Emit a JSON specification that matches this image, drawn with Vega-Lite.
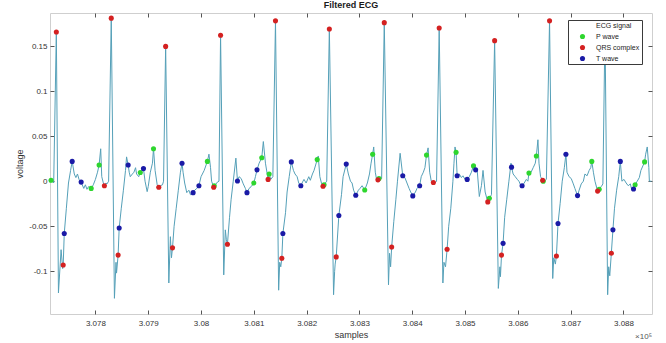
{
  "$schema": "https://vega.github.io/schema/vega-lite/v6.json",
  "width": 602,
  "height": 301,
  "autosize": {"type": "none"},
  "padding": {"left": 50, "top": 13, "right": 14, "bottom": 29},
  "background": "white",
  "title": {"text": "Filtered ECG", "fontSize": 9, "font": "Liberation Sans", "fontWeight": "bold", "color": "#1a1a1a", "frame": "group", "anchor": "middle", "offset": 3},
  "datasets": {
    "ecg": [
      {"s":307715,"v":0.001},{"s":307719,"v":0.000},{"s":307721,"v":-0.002},{"s":307726,"v":0.1656},{"s":307730,"v":-0.124},{"s":307735,"v":-0.076},{"s":307738,"v":-0.097},{"s":307739,"v":-0.093},{"s":307741,"v":-0.058},{"s":307745,"v":-0.03},{"s":307749,"v":-0.002},{"s":307753,"v":0.012},{"s":307756,"v":0.022},{"s":307760,"v":0.008},{"s":307763,"v":0.004},{"s":307766,"v":0.008},{"s":307769,"v":0.002},{"s":307773,"v":-0.001},{"s":307775,"v":-0.004},{"s":307778,"v":-0.008},{"s":307781,"v":-0.004},{"s":307784,"v":-0.009},{"s":307787,"v":-0.006},{"s":307792,"v":-0.008},{"s":307796,"v":-0.004},{"s":307800,"v":0.002},{"s":307804,"v":0.01},{"s":307807,"v":0.018},{"s":307810,"v":0.036},{"s":307812,"v":0.005},{"s":307815,"v":-0.002},{"s":307817,"v":-0.005},{"s":307820,"v":-0.002},{"s":307822,"v":-0.003},{"s":307825,"v":0.0},{"s":307830,"v":0.181},
      {"s":307836,"v":-0.130},{"s":307839,"v":-0.09},{"s":307840,"v":-0.102},{"s":307843,"v":-0.082},{"s":307845,"v":-0.052},{"s":307849,"v":-0.03},{"s":307853,"v":-0.01},{"s":307857,"v":0.012},{"s":307859,"v":0.027},{"s":307862,"v":0.018},{"s":307864,"v":0.01},{"s":307866,"v":0.005},{"s":307870,"v":0.008},{"s":307873,"v":0.01},{"s":307876,"v":0.015},{"s":307878,"v":0.008},{"s":307882,"v":0.005},{"s":307885,"v":0.0096},{"s":307888,"v":0.012},{"s":307891,"v":0.014},{"s":307894,"v":0.0},{"s":307898,"v":-0.0116},{"s":307900,"v":-0.006},{"s":307904,"v":0.01},{"s":307908,"v":0.02},{"s":307910,"v":0.036},{"s":307913,"v":0.012},{"s":307917,"v":-0.004},{"s":307920,"v":-0.0067},{"s":307923,"v":-0.005},{"s":307927,"v":-0.004},{"s":307929,"v":0.0},{"s":307933,"v":0.1496},
      {"s":307939,"v":-0.113},{"s":307942,"v":-0.0616},{"s":307944,"v":-0.085},{"s":307946,"v":-0.074},{"s":307949,"v":-0.05},{"s":307953,"v":-0.03},{"s":307957,"v":-0.01},{"s":307961,"v":0.01},{"s":307964,"v":0.020},{"s":307966,"v":0.01},{"s":307969,"v":-0.002},{"s":307973,"v":-0.0127},{"s":307977,"v":-0.01},{"s":307980,"v":-0.015},{"s":307985,"v":-0.0127},{"s":307988,"v":-0.01},{"s":307992,"v":-0.008},{"s":307996,"v":-0.005},{"s":308000,"v":0.005},{"s":308006,"v":0.012},{"s":308012,"v":0.022},{"s":308015,"v":0.030},{"s":308018,"v":0.015},{"s":308020,"v":0.0},{"s":308024,"v":-0.0067},{"s":308027,"v":-0.004},{"s":308031,"v":-0.001},{"s":308034,"v":0.0},{"s":308037,"v":0.162},
      {"s":308043,"v":-0.104},{"s":308046,"v":-0.054},{"s":308048,"v":-0.065},{"s":308050,"v":-0.070},{"s":308054,"v":-0.04},{"s":308057,"v":-0.02},{"s":308061,"v":0.0},{"s":308066,"v":0.0256},{"s":308069,"v":0.0003},{"s":308072,"v":0.005},{"s":308076,"v":0.003},{"s":308080,"v":-0.003},{"s":308084,"v":-0.008},{"s":308087,"v":-0.0127},{"s":308091,"v":-0.008},{"s":308095,"v":-0.006},{"s":308100,"v":-0.002},{"s":308103,"v":0.005},{"s":308106,"v":0.0126},{"s":308110,"v":0.02},{"s":308115,"v":0.026},{"s":308118,"v":0.044},{"s":308122,"v":0.02},{"s":308127,"v":0.002},{"s":308129,"v":0.008},{"s":308132,"v":0.002},{"s":308136,"v":0.005},{"s":308141,"v":0.178},
      {"s":308147,"v":-0.121},{"s":308149,"v":-0.09},{"s":308151,"v":-0.095},{"s":308153,"v":-0.0856},{"s":308155,"v":-0.058},{"s":308160,"v":-0.035},{"s":308163,"v":-0.012},{"s":308167,"v":0.005},{"s":308171,"v":0.0214},{"s":308175,"v":0.012},{"s":308178,"v":0.008},{"s":308182,"v":0.005},{"s":308185,"v":-0.002},{"s":308189,"v":-0.005},{"s":308193,"v":0.0},{"s":308195,"v":0.002},{"s":308199,"v":-0.002},{"s":308204,"v":0.005},{"s":308207,"v":0.001},{"s":308211,"v":0.008},{"s":308214,"v":0.012},{"s":308220,"v":0.024},{"s":308222,"v":0.028},{"s":308225,"v":0.005},{"s":308228,"v":-0.002},{"s":308231,"v":-0.0056},{"s":308234,"v":-0.003},{"s":308238,"v":0.0},{"s":308243,"v":0.169},
      {"s":308251,"v":-0.126},{"s":308253,"v":-0.1},{"s":308254,"v":-0.092},{"s":308256,"v":-0.084},{"s":308261,"v":-0.038},{"s":308266,"v":-0.015},{"s":308269,"v":0.005},{"s":308275,"v":0.019},{"s":308279,"v":0.008},{"s":308283,"v":0.0},{"s":308286,"v":-0.002},{"s":308289,"v":-0.01},{"s":308293,"v":-0.0156},{"s":308298,"v":-0.01},{"s":308301,"v":-0.008},{"s":308305,"v":-0.005},{"s":308310,"v":-0.0097},{"s":308315,"v":-0.002},{"s":308319,"v":0.008},{"s":308322,"v":0.02},{"s":308325,"v":0.030},{"s":308327,"v":0.038},{"s":308330,"v":0.01},{"s":308333,"v":0.0},{"s":308335,"v":0.0015},{"s":308338,"v":0.002},{"s":308342,"v":0.003},{"s":308347,"v":0.176},
      {"s":308355,"v":-0.115},{"s":308357,"v":-0.08},{"s":308359,"v":-0.095},{"s":308361,"v":-0.073},{"s":308365,"v":-0.045},{"s":308369,"v":-0.02},{"s":308372,"v":0.0},{"s":308377,"v":0.031},{"s":308382,"v":0.006},{"s":308386,"v":0.004},{"s":308390,"v":-0.002},{"s":308394,"v":-0.008},{"s":308397,"v":-0.012},{"s":308401,"v":-0.0163},{"s":308406,"v":-0.012},{"s":308409,"v":-0.008},{"s":308414,"v":-0.005},{"s":308417,"v":0.005},{"s":308421,"v":0.01},{"s":308424,"v":0.015},{"s":308427,"v":0.029},{"s":308430,"v":0.037},{"s":308433,"v":0.01},{"s":308436,"v":0.0},{"s":308440,"v":-0.0015},{"s":308443,"v":-0.002},{"s":308446,"v":0.0},{"s":308451,"v":0.170},
      {"s":308458,"v":-0.113},{"s":308460,"v":-0.09},{"s":308463,"v":-0.095},{"s":308466,"v":-0.0756},{"s":308469,"v":-0.05},{"s":308473,"v":-0.03},{"s":308477,"v":0.0},{"s":308479,"v":0.02},{"s":308481,"v":0.038},{"s":308483,"v":0.032},{"s":308485,"v":0.006},{"s":308489,"v":0.008},{"s":308493,"v":0.004},{"s":308496,"v":0.006},{"s":308500,"v":0.002},{"s":308504,"v":0.002},{"s":308508,"v":0.005},{"s":308512,"v":0.01},{"s":308516,"v":0.017},{"s":308520,"v":0.0126},{"s":308523,"v":0.012},{"s":308527,"v":-0.017},{"s":308531,"v":-0.005},{"s":308534,"v":0.012},{"s":308538,"v":-0.012},{"s":308543,"v":-0.023},{"s":308546,"v":-0.019},{"s":308550,"v":-0.015},{"s":308556,"v":0.156},
      {"s":308563,"v":-0.119},{"s":308566,"v":-0.095},{"s":308567,"v":-0.106},{"s":308569,"v":-0.082},{"s":308572,"v":-0.069},{"s":308575,"v":-0.04},{"s":308579,"v":-0.02},{"s":308583,"v":0.0},{"s":308587,"v":0.020},{"s":308588,"v":0.0156},{"s":308591,"v":0.008},{"s":308595,"v":0.005},{"s":308599,"v":0.002},{"s":308602,"v":0.0},{"s":308605,"v":-0.004},{"s":308608,"v":-0.005},{"s":308612,"v":-0.002},{"s":308616,"v":0.002},{"s":308619,"v":0.0},{"s":308621,"v":0.009},{"s":308625,"v":0.01},{"s":308629,"v":0.015},{"s":308633,"v":0.02},{"s":308635,"v":0.028},{"s":308638,"v":0.046},{"s":308640,"v":0.02},{"s":308643,"v":0.005},{"s":308647,"v":0.001},{"s":308650,"v":0.0},{"s":308654,"v":0.002},{"s":308660,"v":0.178},
      {"s":308666,"v":-0.108},{"s":308668,"v":-0.085},{"s":308671,"v":-0.092},{"s":308673,"v":-0.083},{"s":308676,"v":-0.047},{"s":308680,"v":-0.025},{"s":308684,"v":0.0},{"s":308688,"v":0.015},{"s":308691,"v":0.030},{"s":308693,"v":0.01},{"s":308697,"v":0.005},{"s":308701,"v":0.003},{"s":308705,"v":-0.003},{"s":308708,"v":-0.008},{"s":308713,"v":-0.016},{"s":308716,"v":-0.01},{"s":308720,"v":-0.003},{"s":308724,"v":0.0},{"s":308727,"v":0.008},{"s":308731,"v":0.006},{"s":308735,"v":0.012},{"s":308738,"v":0.015},{"s":308740,"v":0.022},{"s":308743,"v":0.01},{"s":308746,"v":0.0},{"s":308751,"v":-0.011},{"s":308754,"v":-0.008},{"s":308758,"v":-0.006},{"s":308761,"v":-0.003},{"s":308765,"v":0.17},
      {"s":308770,"v":-0.126},{"s":308772,"v":-0.095},{"s":308774,"v":-0.105},{"s":308777,"v":-0.080},{"s":308780,"v":-0.054},{"s":308783,"v":-0.03},{"s":308787,"v":-0.01},{"s":308791,"v":0.005},{"s":308794,"v":0.022},{"s":308797,"v":0.0},{"s":308801,"v":0.002},{"s":308805,"v":-0.002},{"s":308809,"v":-0.005},{"s":308813,"v":-0.003},{"s":308815,"v":-0.008},{"s":308819,"v":-0.0086},{"s":308822,"v":-0.004},{"s":308826,"v":0.0},{"s":308830,"v":0.004},{"s":308833,"v":0.012},{"s":308840,"v":0.0214},{"s":308842,"v":0.03},{"s":308845,"v":0.038},{"s":308848,"v":0.015},{"s":308849,"v":0.0},{"s":308853,"v":0.0}
    ],
    "pts": [
      {"s":307716,"v":0.001,"type":"P wave"},{"s":307792,"v":-0.008,"type":"P wave"},{"s":307807,"v":0.018,"type":"P wave"},{"s":307885,"v":0.0096,"type":"P wave"},{"s":307910,"v":0.036,"type":"P wave"},{"s":308012,"v":0.022,"type":"P wave"},{"s":308025,"v":-0.005,"type":"P wave"},{"s":308100,"v":-0.002,"type":"P wave"},{"s":308115,"v":0.026,"type":"P wave"},{"s":308129,"v":0.008,"type":"P wave"},{"s":308220,"v":0.024,"type":"P wave"},{"s":308233,"v":-0.004,"type":"P wave"},{"s":308310,"v":-0.0097,"type":"P wave"},{"s":308325,"v":0.030,"type":"P wave"},{"s":308337,"v":0.003,"type":"P wave"},{"s":308427,"v":0.029,"type":"P wave"},{"s":308483,"v":0.032,"type":"P wave"},{"s":308516,"v":0.017,"type":"P wave"},{"s":308546,"v":-0.019,"type":"P wave"},{"s":308621,"v":0.009,"type":"P wave"},{"s":308635,"v":0.028,"type":"P wave"},{"s":308648,"v":0.0,"type":"P wave"},{"s":308740,"v":0.022,"type":"P wave"},{"s":308754,"v":-0.009,"type":"P wave"},{"s":308822,"v":-0.004,"type":"P wave"},{"s":308840,"v":0.0214,"type":"P wave"},
      {"s":307726,"v":0.1656,"type":"QRS complex"},{"s":307830,"v":0.181,"type":"QRS complex"},{"s":307933,"v":0.1496,"type":"QRS complex"},{"s":308037,"v":0.162,"type":"QRS complex"},{"s":308141,"v":0.178,"type":"QRS complex"},{"s":308243,"v":0.169,"type":"QRS complex"},{"s":308347,"v":0.176,"type":"QRS complex"},{"s":308451,"v":0.170,"type":"QRS complex"},{"s":308556,"v":0.156,"type":"QRS complex"},{"s":308660,"v":0.178,"type":"QRS complex"},{"s":308765,"v":0.170,"type":"QRS complex"},
      {"s":307739,"v":-0.093,"type":"QRS complex"},{"s":307843,"v":-0.082,"type":"QRS complex"},{"s":307946,"v":-0.074,"type":"QRS complex"},{"s":308050,"v":-0.070,"type":"QRS complex"},{"s":308153,"v":-0.0856,"type":"QRS complex"},{"s":308256,"v":-0.084,"type":"QRS complex"},{"s":308361,"v":-0.073,"type":"QRS complex"},{"s":308466,"v":-0.0756,"type":"QRS complex"},{"s":308569,"v":-0.082,"type":"QRS complex"},{"s":308673,"v":-0.083,"type":"QRS complex"},{"s":308777,"v":-0.080,"type":"QRS complex"},
      {"s":307817,"v":-0.005,"type":"QRS complex"},{"s":307920,"v":-0.0067,"type":"QRS complex"},{"s":308024,"v":-0.0067,"type":"QRS complex"},{"s":308127,"v":0.002,"type":"QRS complex"},{"s":308231,"v":-0.0056,"type":"QRS complex"},{"s":308335,"v":0.0015,"type":"QRS complex"},{"s":308440,"v":-0.0015,"type":"QRS complex"},{"s":308543,"v":-0.023,"type":"QRS complex"},{"s":308647,"v":0.001,"type":"QRS complex"},{"s":308751,"v":-0.011,"type":"QRS complex"},
      {"s":307741,"v":-0.058,"type":"T wave"},{"s":307756,"v":0.022,"type":"T wave"},{"s":307773,"v":-0.001,"type":"T wave"},{"s":307845,"v":-0.052,"type":"T wave"},{"s":307862,"v":0.018,"type":"T wave"},{"s":307891,"v":0.014,"type":"T wave"},{"s":307964,"v":0.020,"type":"T wave"},{"s":307985,"v":-0.0127,"type":"T wave"},{"s":307996,"v":-0.005,"type":"T wave"},{"s":308069,"v":0.0003,"type":"T wave"},{"s":308087,"v":-0.0127,"type":"T wave"},{"s":308106,"v":0.0126,"type":"T wave"},{"s":308155,"v":-0.058,"type":"T wave"},{"s":308171,"v":0.0214,"type":"T wave"},{"s":308189,"v":-0.005,"type":"T wave"},{"s":308261,"v":-0.038,"type":"T wave"},{"s":308275,"v":0.019,"type":"T wave"},{"s":308293,"v":-0.0156,"type":"T wave"},{"s":308382,"v":0.006,"type":"T wave"},{"s":308401,"v":-0.0163,"type":"T wave"},{"s":308414,"v":-0.005,"type":"T wave"},{"s":308485,"v":0.006,"type":"T wave"},{"s":308504,"v":0.002,"type":"T wave"},{"s":308520,"v":0.0126,"type":"T wave"},{"s":308572,"v":-0.069,"type":"T wave"},{"s":308588,"v":0.0156,"type":"T wave"},{"s":308608,"v":-0.005,"type":"T wave"},{"s":308676,"v":-0.047,"type":"T wave"},{"s":308691,"v":0.030,"type":"T wave"},{"s":308713,"v":-0.016,"type":"T wave"},{"s":308780,"v":-0.054,"type":"T wave"},{"s":308794,"v":0.022,"type":"T wave"},{"s":308819,"v":-0.0086,"type":"T wave"}
    ]
  },
  "layer": [
    {
      "data": {"name": "ecg"},
      "mark": {"type": "line", "color": "#55a0b8", "strokeWidth": 1},
      "encoding": {
        "x": {"field": "s", "type": "quantitative", "scale": {"domain": [307714, 308854], "nice": false, "zero": false},
          "axis": {"orient": "bottom", "values": [307800,307900,308000,308100,308200,308300,308400,308500,308600,308700,308800], "labelExpr": "format(datum.value/100000, '~g')", "tickSize": -4, "labelPadding": 9, "title": "samples", "titlePadding": 3, "domain": false, "grid": false}},
        "y": {"field": "v", "type": "quantitative", "scale": {"domain": [-0.1474, 0.1867], "nice": false, "zero": false},
          "axis": {"orient": "left", "values": [-0.1,-0.05,0,0.05,0.1,0.15], "labelExpr": "datum.value < 0 ? '-' + format(-datum.value, '~g') : format(datum.value, '~g')", "tickSize": -4, "labelPadding": 7, "title": "voltage", "titlePadding": 4, "domain": false, "grid": false}}
      }
    },
    {
      "data": {"name": "pts"},
      "mark": {"type": "point", "filled": true, "size": 26, "opacity": 1},
      "encoding": {
        "x": {"field": "s", "type": "quantitative", "axis": {"orient": "top", "values": [307800,307900,308000,308100,308200,308300,308400,308500,308600,308700,308800], "labels": false, "tickSize": -4, "domain": false, "title": null, "grid": false}},
        "y": {"field": "v", "type": "quantitative", "axis": {"orient": "right", "values": [-0.1,-0.05,0,0.05,0.1,0.15], "labels": false, "tickSize": -4, "domain": false, "title": null, "grid": false}},
        "color": {"field": "type", "type": "nominal",
          "scale": {"domain": ["ECG signal", "P wave", "QRS complex", "T wave"], "range": ["#ffffff", "#2ed62e", "#d42121", "#1a1aa6"]},
          "legend": {"orient": "none", "legendX": 518, "legendY": 7, "title": null, "fillColor": "white", "strokeColor": "#3a3a3a", "padding": 2, "labelFontSize": 7, "labelFont": "Liberation Sans", "labelColor": "#222", "symbolSize": 26, "symbolOffset": 9, "labelOffset": 10, "rowPadding": 3, "symbolType": "circle", "symbolStrokeWidth": 0}}
      }
    },
    {
      "data": {"values": [{}]},
      "mark": {"type": "text", "align": "right", "baseline": "middle", "dy": 23, "fontSize": 8, "font": "Liberation Sans", "color": "#555"},
      "encoding": {
        "x": {"datum": 308854, "type": "quantitative", "axis": null},
        "y": {"datum": -0.1474, "type": "quantitative", "axis": null},
        "text": {"value": "×10⁵"}
      }
    }
  ],
  "resolve": {"axis": {"x": "independent", "y": "independent"}},
  "config": {
    "view": {"stroke": "#cfcfcf", "strokeWidth": 1},
    "axis": {"labelFont": "Liberation Sans", "titleFont": "Liberation Sans", "labelFontSize": 8, "titleFontSize": 9, "titleFontWeight": "normal", "labelColor": "#333", "titleColor": "#333", "tickColor": "#555"}
  }
}
